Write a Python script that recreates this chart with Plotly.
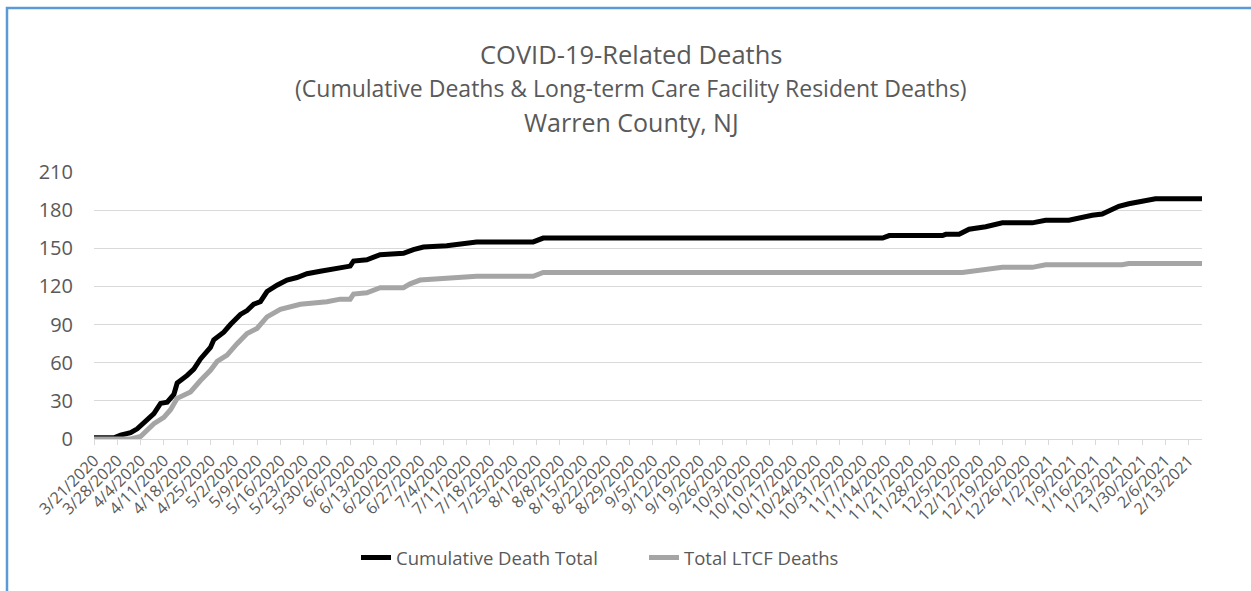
import plotly.graph_objects as go

# Cumulative Death Total (date, value)
total_dates = ["2020-03-21", "2020-03-27", "2020-03-29", "2020-04-01", "2020-04-03", "2020-04-06",
               "2020-04-08", "2020-04-10", "2020-04-12", "2020-04-14", "2020-04-15", "2020-04-18",
               "2020-04-20", "2020-04-22", "2020-04-25", "2020-04-26", "2020-04-29", "2020-05-01",
               "2020-05-04", "2020-05-06", "2020-05-08", "2020-05-10", "2020-05-12", "2020-05-15",
               "2020-05-18", "2020-05-21", "2020-05-24", "2020-05-28", "2020-06-02", "2020-06-06",
               "2020-06-07", "2020-06-11", "2020-06-15", "2020-06-22", "2020-06-25", "2020-06-28",
               "2020-07-05", "2020-07-09", "2020-07-14", "2020-07-31", "2020-08-03", "2020-11-13",
               "2020-11-15", "2020-12-01", "2020-12-02", "2020-12-06", "2020-12-09", "2020-12-14",
               "2020-12-19", "2020-12-28", "2021-01-01", "2021-01-08", "2021-01-11", "2021-01-15",
               "2021-01-18", "2021-01-23", "2021-01-26", "2021-01-30", "2021-02-03", "2021-02-17"]
total_values = [1, 1, 3, 5, 8, 15,
                20, 28, 29, 35, 44, 50,
                55, 63, 72, 78, 84, 90,
                98, 101, 106, 108, 116, 121,
                125, 127, 130, 132, 134, 136,
                140, 141, 145, 146, 149, 151,
                152, 153, 155, 155, 158, 158,
                160, 160, 161, 161, 165, 167,
                170, 170, 172, 172, 174, 176,
                177, 183, 185, 187, 189, 189]

# Total LTCF Deaths (date, value)
ltcf_dates = ["2020-03-21", "2020-04-01", "2020-04-04", "2020-04-08", "2020-04-11", "2020-04-13",
              "2020-04-15", "2020-04-19", "2020-04-22", "2020-04-25", "2020-04-27", "2020-04-30",
              "2020-05-03", "2020-05-06", "2020-05-09", "2020-05-12", "2020-05-16", "2020-05-20",
              "2020-05-22", "2020-05-30", "2020-06-03", "2020-06-06", "2020-06-07", "2020-06-11",
              "2020-06-15", "2020-06-22", "2020-06-24", "2020-06-27", "2020-07-05", "2020-07-14",
              "2020-07-31", "2020-08-03", "2020-12-07", "2020-12-12", "2020-12-19", "2020-12-28",
              "2021-01-01", "2021-01-24", "2021-01-26", "2021-02-17"]
ltcf_values = [0, 0, 2, 12, 17, 23,
               32, 37, 46, 54, 61, 66,
               75, 83, 87, 96, 102, 104,
               106, 108, 110, 110, 114, 115,
               119, 119, 122, 125, 126, 128,
               128, 131, 131, 133, 135, 135,
               137, 137, 138, 138]

y_ticks = [0, 30, 60, 90, 120, 150, 180, 210]

title_lines = ["COVID-19-Related Deaths",
               "(Cumulative Deaths & Long-term Care Facility Resident Deaths)",
               "Warren County, NJ"]

FONT = "Open Sans"
TXT = "#595959"

fig = go.Figure()
fig.add_trace(go.Scatter(x=total_dates, y=total_values, mode="lines",
                         name="Cumulative Death Total",
                         line=dict(color="#000000", width=5)))
fig.add_trace(go.Scatter(x=ltcf_dates, y=ltcf_values, mode="lines",
                         name="Total LTCF Deaths",
                         line=dict(color="#a5a5a5", width=5)))

W, H = 1251, 591
L, R, T, B = 94, 49, 172, 152
pw, ph = W - L - R, H - T - B

def px(xp):
    return (xp - L) / pw

def py(yp):
    return (H - B - yp) / ph

annotations = []
for txt, yc, fs in zip(title_lines, [54, 88, 122], [25.5, 23, 25]):
    annotations.append(dict(text=txt, xref="paper", yref="paper", x=px(631), y=py(yc),
                            xanchor="center", yanchor="middle", showarrow=False,
                            font=dict(family=FONT, size=fs, color=TXT)))

fig.update_layout(
    width=W, height=H, autosize=False,
    margin=dict(l=L, r=R, t=T, b=B, autoexpand=False),
    paper_bgcolor="white", plot_bgcolor="white",
    font=dict(family=FONT, color=TXT),
    annotations=annotations,
    showlegend=True,
    legend=dict(orientation="h", x=px(356), xanchor="left", y=py(558), yanchor="middle",
                font=dict(family=FONT, size=18.5, color=TXT), traceorder="normal",
                entrywidth=243, entrywidthmode="pixels"),
    xaxis=dict(type="date", range=["2020-03-21", "2021-02-17"], automargin=False,
               tick0="2020-03-21", dtick=7 * 86400000, tickformat="%-m/%-d/%Y",
               tickangle=-45, tickfont=dict(family=FONT, size=16, color=TXT),
               showgrid=False, showline=True, linecolor="#d9d9d9", linewidth=1,
               ticks="outside", ticklen=5, tickcolor="#d9d9d9", zeroline=False),
    yaxis=dict(range=[0, 210], tickvals=y_ticks, showgrid=True, gridcolor="#d9d9d9",
               gridwidth=1, zeroline=False, showline=False, ticks="", automargin=False,
               tickfont=dict(family=FONT, size=20, color=TXT), ticklabelstandoff=20),
    shapes=[dict(type="rect", xref="paper", yref="paper",
                 x0=px(7), x1=px(1300), y0=py(700), y1=py(8),
                 line=dict(color="#5b9bd5", width=2.5), fillcolor="rgba(0,0,0,0)",
                 layer="below")],
)

fig.write_html("out.html", config={"displayModeBar": False},
               post_script="document.body.style.margin='0';")
